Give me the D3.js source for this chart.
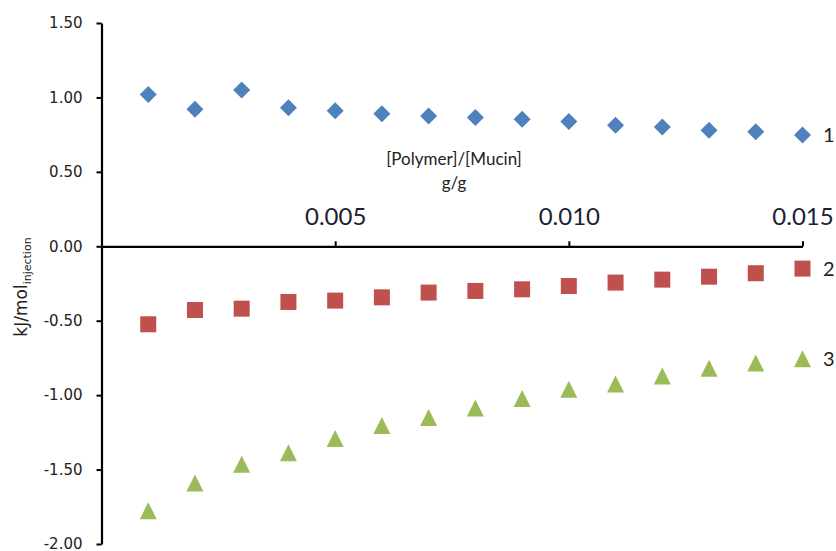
<!DOCTYPE html>
<html>
<head>
<meta charset="utf-8">
<script src="https://cdn.jsdelivr.net/npm/d3@7"></script>
<style>
  html, body { margin: 0; padding: 0; background: #fff; }
  svg { display: block; }
</style>
</head>
<body>
<svg id="chart" width="836" height="551"></svg>
<script>
const xValues = [0.001, 0.002, 0.003, 0.004, 0.005, 0.006, 0.007, 0.008, 0.009, 0.010, 0.011, 0.012, 0.013, 0.014, 0.015];
const series1 = [1.02, 0.92, 1.05, 0.93, 0.91, 0.89, 0.875, 0.865, 0.853, 0.838, 0.813, 0.801, 0.779, 0.770, 0.748];
const series2 = [-0.524, -0.428, -0.419, -0.374, -0.365, -0.343, -0.311, -0.300, -0.289, -0.267, -0.244, -0.224, -0.204, -0.181, -0.150];
const series3 = [-1.780, -1.594, -1.467, -1.391, -1.294, -1.207, -1.153, -1.090, -1.026, -0.963, -0.929, -0.875, -0.822, -0.788, -0.759];
const seriesLabels = ["1", "2", "3"];
const xTicks = [0.005, 0.010, 0.015];
const yTicks = [1.5, 1.0, 0.5, 0.0, -0.5, -1.0, -1.5, -2.0];
const xTitle = ["[Polymer]/[Mucin]", "g/g"];

const svg = d3.select("#chart");
const x = d3.scaleLinear().domain([0, 0.015]).range([101.5, 802.5]);
const y = d3.scaleLinear().domain([-2.0, 1.5]).range([544, 23]);

// Y axis
const yAxis = d3.axisLeft(y).tickValues(yTicks).tickFormat(d => d.toFixed(2))
  .tickSize(5).tickSizeOuter(0).tickPadding(14);
const gy = svg.append("g").attr("transform", `translate(${x(0)},0)`).call(yAxis);
gy.select(".domain").attr("stroke", "#000").attr("stroke-width", 2.2);
gy.selectAll(".tick line").attr("stroke", "#000").attr("stroke-width", 2);
gy.selectAll(".tick text").attr("font-family", "DejaVu Sans").attr("font-size", 15).attr("fill", "#222");

// X axis at y=0
const xAxis = d3.axisTop(x).tickValues(xTicks).tickFormat(d => d.toFixed(3))
  .tickSize(5).tickSizeOuter(0).tickPadding(16);
const gx = svg.append("g").attr("transform", `translate(0,${y(0)})`).call(xAxis);
gx.select(".domain").attr("stroke", "#000").attr("stroke-width", 2.2);
gx.selectAll(".tick line").attr("stroke", "#000").attr("stroke-width", 2);
gx.selectAll(".tick text").attr("font-family", "Lato, 'Open Sans', sans-serif").attr("font-size", 24).attr("fill", "#1c2233");

// X title
svg.append("text").attr("x", 454).attr("y", 165).attr("text-anchor", "middle")
  .attr("font-family", "Lato, 'Open Sans', sans-serif").attr("font-size", 17).attr("fill", "#222")
  .text(xTitle[0]);
svg.append("text").attr("x", 454).attr("y", 189).attr("text-anchor", "middle")
  .attr("font-family", "Lato, 'Open Sans', sans-serif").attr("font-size", 17).attr("fill", "#222")
  .text(xTitle[1]);

// Y title
const yt = svg.append("text").attr("transform", "translate(27,287) rotate(-90)")
  .attr("text-anchor", "middle").attr("font-family", "DejaVu Sans").attr("font-size", 17).attr("fill", "#222");
yt.append("tspan").text("kJ/mol");
yt.append("tspan").attr("font-size", 11).attr("dy", 4).text("injection");

// Markers
const data1 = xValues.map((d, i) => [d, series1[i]]);
const data2 = xValues.map((d, i) => [d, series2[i]]);
const data3 = xValues.map((d, i) => [d, series3[i]]);

svg.append("g").selectAll("path").data(data1).join("path")
  .attr("d", "M0,-8.5 L8.5,0 L0,8.5 L-8.5,0 Z")
  .attr("transform", d => `translate(${x(d[0])},${y(d[1])})`)
  .attr("fill", "#4f81bd");

svg.append("g").selectAll("rect").data(data2).join("rect")
  .attr("x", d => x(d[0]) - 8).attr("y", d => y(d[1]) - 8)
  .attr("width", 16).attr("height", 16)
  .attr("fill", "#c0504d");

svg.append("g").selectAll("path").data(data3).join("path")
  .attr("d", "M0,-9 L8.5,8 L-8.5,8 Z")
  .attr("transform", d => `translate(${x(d[0])},${y(d[1])})`)
  .attr("fill", "#9bbb59");

// Series labels
const lastVals = [series1[14], series2[14], series3[14]];
svg.append("g").selectAll("text").data(seriesLabels).join("text")
  .attr("x", 823)
  .attr("y", (d, i) => y(lastVals[i]) + 7)
  .attr("font-family", "Lato, 'Open Sans', sans-serif").attr("font-size", 20).attr("fill", "#222")
  .text(d => d);
</script>
</body>
</html>
